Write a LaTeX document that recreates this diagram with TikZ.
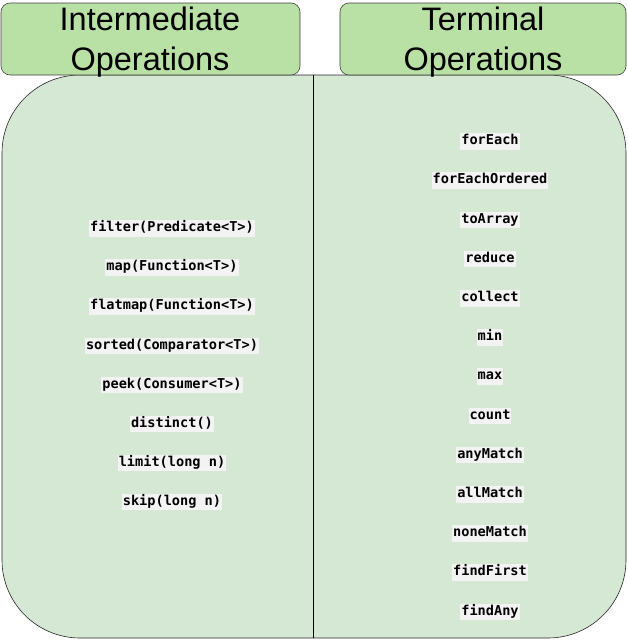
\documentclass[tikz,border=0pt]{standalone}
\usepackage{fontspec}
\setmainfont{Liberation Sans}
\setmonofont{DejaVu Sans Mono}
\begin{document}
\begin{tikzpicture}[x=1pt,y=-1pt,
  head/.style={draw=black!75,fill=hdr,rounded corners=9pt,line width=0.6pt},
  hdtext/.style={font=\fontsize{32.5}{40}\selectfont,align=center,text=black},
  op/.style={font=\fontsize{13.6}{16}\ttfamily\bfseries,fill=hl,inner xsep=1pt,inner ysep=0pt,text height=11.5pt,text depth=5pt}]
\definecolor{hdr}{HTML}{B9E0A5}
\definecolor{body}{HTML}{D5E8D4}
\definecolor{hl}{HTML}{F3F3F3}
\useasboundingbox (0,0) rectangle (627,640);
\draw[fill=body,draw=black!85,line width=0.6pt,rounded corners=78pt] (2,75) rectangle (626,638);
\draw[black,line width=0.6pt] (313,75) -- (313,638);
\draw[head] (1,3) rectangle (300,75);
\draw[head] (340,3) rectangle (626,75);
\node[hdtext] (ih) at (150,42) {Intermediate\\Operations};
\node[hdtext] (th) at (483,42) {Terminal\\Operations};
\foreach \t [count=\i] in {filter(Predicate<T>),map(Function<T>),flatmap(Function<T>),sorted(Comparator<T>),peek(Consumer<T>),distinct(),limit(long n),skip(long n)}
  \node[op] (l\i) at (172,{228.5+39.1*(\i-1)}) {\t};
\foreach \t [count=\i] in {forEach,forEachOrdered,toArray,reduce,collect,min,max,count,anyMatch,allMatch,noneMatch,findFirst\ ,findAny}
  \node[op] (r\i) at (490,{141.5+39.2*(\i-1)}) {\t};
\end{tikzpicture}
\end{document}
